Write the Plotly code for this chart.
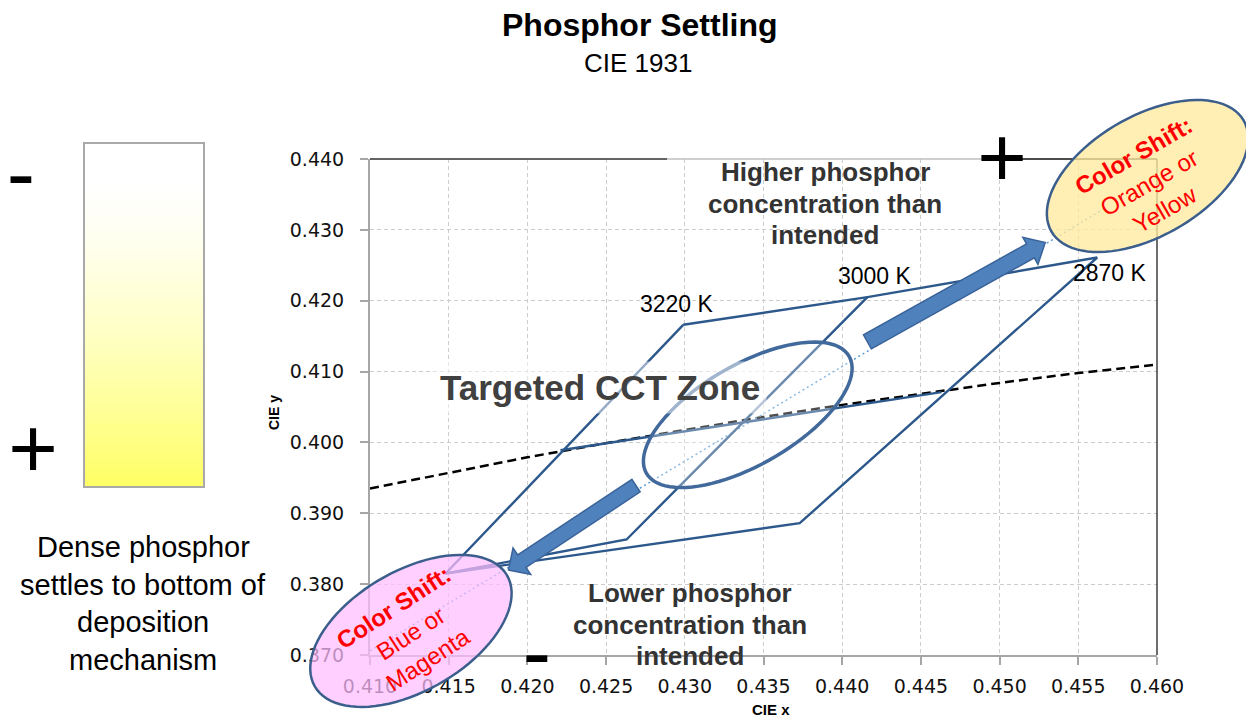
import math
import plotly.graph_objects as go

# ---------------- data ----------------
x_range = [0.410, 0.460]
y_range = [0.370, 0.440]
x_tick_vals = [0.410, 0.415, 0.420, 0.425, 0.430, 0.435, 0.440, 0.445, 0.450, 0.455, 0.460]
y_tick_vals = [0.370, 0.380, 0.390, 0.400, 0.410, 0.420, 0.430, 0.440]

# quadrangle corners (CIE x, CIE y)
cct_labels = ["3220 K", "3000 K", "2870 K"]
top_x = [0.4299, 0.4416, 0.4562]
top_y = [0.4166, 0.4205, 0.4261]
bottom_x = [0.4148, 0.4263, 0.4373]
bottom_y = [0.3815, 0.3863, 0.3886]
duv0_x = [0.4221, 0.4463]
duv0_y = [0.3989, 0.4071]

# black body (Planckian) locus, dashed
planck_x = [0.410, 0.415, 0.420, 0.425, 0.430, 0.435, 0.440, 0.445, 0.450, 0.455, 0.460]
planck_y = [0.3935, 0.3957, 0.3979, 0.3999, 0.4018, 0.4036, 0.4053, 0.4069, 0.4084, 0.4098, 0.4110]

# shift direction (dotted light-blue line)
shift_x = [0.4100, 0.4568]
shift_y = [0.3706, 0.4332]

# annotation geometry anchors (data coords)
zone_center = (0.4340, 0.4039)
low_shift_center = (0.4126, 0.3734)
high_shift_center = (0.4594, 0.4376)
arrow_up = [(0.4416, 0.4142), (0.4529, 0.4282)]
arrow_down = [(0.4269, 0.3939), (0.4188, 0.3820)]

# ---------------- geometry helpers ----------------
OFF = 8                      # page body margin
W, H = 1254 - 2 * OFF, 725 - 2 * OFF
ML, MT = 370 - OFF, 159 - OFF
PW, PH = 787, 496
MR, MB = W - ML - PW, H - MT - PH


def d2px(x, y):
    """data -> page pixel"""
    px = OFF + ML + (x - x_range[0]) / (x_range[1] - x_range[0]) * PW
    py = OFF + MT + (y_range[1] - y) / (y_range[1] - y_range[0]) * PH
    return px, py


def pxp(px):
    return (px - OFF - ML) / PW


def pyp(py):
    return (MT + PH - (py - OFF)) / PH


def path_from_px(pts):
    return "M " + " L ".join(f"{pxp(a):.5f},{pyp(b):.5f}" for a, b in pts) + " Z"


def ellipse_path(center, a, b, theta_deg, n=90):
    cx, cy = d2px(*center)
    t = math.radians(theta_deg)
    pts = []
    for i in range(n):
        f = 2 * math.pi * i / n
        ex = a * math.cos(f)
        ey = b * math.sin(f)
        pts.append((cx + ex * math.cos(t) - ey * math.sin(t),
                    cy - (ex * math.sin(t) + ey * math.cos(t))))
    return path_from_px(pts)


def arrow_path(tail, tip, w, hw, hl):
    x0, y0 = d2px(*tail)
    x1, y1 = d2px(*tip)
    L = math.hypot(x1 - x0, y1 - y0)
    dx, dy = (x1 - x0) / L, (y1 - y0) / L
    nx, ny = -dy, dx
    bx, by = x1 - dx * hl, y1 - dy * hl
    pts = [(x0 + nx * w, y0 + ny * w), (bx + nx * w, by + ny * w), (bx + nx * hw, by + ny * hw),
           (x1, y1), (bx - nx * hw, by - ny * hw), (bx - nx * w, by - ny * w), (x0 - nx * w, y0 - ny * w)]
    return path_from_px(pts)


# ---------------- figure ----------------
fig = go.Figure()
quad_col = "#2C588C"

fig.add_trace(go.Scatter(x=planck_x, y=planck_y, mode="lines",
                         line=dict(color="black", width=2.5, dash="9px,5px"), hoverinfo="skip"))
fig.add_trace(go.Scatter(x=shift_x, y=shift_y, mode="lines",
                         line=dict(color="#5A9BD5", width=1.5, dash="2px,3px"), hoverinfo="skip"))
fig.add_trace(go.Scatter(
    x=[top_x[0], top_x[1], top_x[2], bottom_x[2], bottom_x[0], top_x[0]],
    y=[top_y[0], top_y[1], top_y[2], bottom_y[2], bottom_y[0], top_y[0]],
    mode="lines", line=dict(color=quad_col, width=2.4), hoverinfo="skip"))
fig.add_trace(go.Scatter(
    x=[top_x[1], bottom_x[1], bottom_x[0]], y=[top_y[1], bottom_y[1], bottom_y[0]],
    mode="lines", line=dict(color=quad_col, width=2.4), hoverinfo="skip"))
fig.add_trace(go.Scatter(x=duv0_x, y=duv0_y, mode="lines",
                         line=dict(color=quad_col, width=2.4), hoverinfo="skip"))

shapes = []
# gradient bar on the left
top_px, bot_px = 143, 487
n_strips = 60
for i in range(n_strips):
    f = (i + 0.5) / n_strips
    g = max(0.0, (f - 0.1) / 0.9) ** 1.4
    blue = int(round(255 - 155 * g))
    y0 = top_px + (bot_px - top_px) * i / n_strips
    y1 = top_px + (bot_px - top_px) * (i + 1) / n_strips + 0.6
    shapes.append(dict(type="rect", xref="paper", yref="paper", x0=pxp(84), x1=pxp(204),
                       y0=pyp(y1), y1=pyp(y0), line=dict(width=0),
                       fillcolor=f"rgb(255,255,{blue})", layer="above"))
shapes.append(dict(type="rect", xref="paper", yref="paper", x0=pxp(84), x1=pxp(204),
                   y0=pyp(bot_px), y1=pyp(top_px), line=dict(color="#A9A9A9", width=2), layer="above"))

# plot frame details
shapes.append(dict(type="line", xref="paper", yref="paper", x0=0, x1=1, y0=1, y1=1,
                   line=dict(color="#BFBFBF", width=1.5), layer="above"))
shapes.append(dict(type="line", xref="paper", yref="paper", x0=0, x1=pxp(667), y0=1, y1=1,
                   line=dict(color="#404040", width=1.3), layer="above"))
shapes.append(dict(type="line", xref="paper", yref="paper", x0=pxp(985), x1=1, y0=1, y1=1,
                   line=dict(color="#202020", width=1.3), layer="above"))
shapes.append(dict(type="line", xref="paper", yref="paper", x0=1, x1=1, y0=0, y1=1,
                   line=dict(color="#202020", width=1.3), layer="above"))

# targeted zone ellipse
shapes.append(dict(type="path", xref="paper", yref="paper", path=ellipse_path(zone_center, 117, 50, 30),
                   line=dict(color="#41699B", width=3.5), fillcolor="rgba(255,255,255,0.3)", layer="above"))
# colour-shift ellipses
shapes.append(dict(type="path", xref="paper", yref="paper", path=ellipse_path(low_shift_center, 111, 60, 30),
                   line=dict(color="#3B5E8C", width=2.5), fillcolor="rgba(255,190,255,0.72)", layer="above"))
shapes.append(dict(type="path", xref="paper", yref="paper", path=ellipse_path(high_shift_center, 111, 60, 30),
                   line=dict(color="#3B5E8C", width=2.5), fillcolor="rgba(255,234,160,0.78)", layer="above"))
# block arrows
for tail, tip, w, hw, hl in [(arrow_up[0], arrow_up[1], 8, 15.5, 17),
                             (arrow_down[0], arrow_down[1], 7.5, 16, 16)]:
    shapes.append(dict(type="path", xref="paper", yref="paper", path=arrow_path(tail, tip, w, hw, hl),
                       line=dict(color="#3A6499", width=1.5), fillcolor="#4F81BD", layer="above"))

ann = []
F = "Liberation Sans, Arial, sans-serif"


def add_text(text, px, py, size, color="black", bold=False, angle=0, **kw):
    t = f"<b>{text}</b>" if bold else text
    d = dict(text=t, xref="paper", yref="paper", x=pxp(px), y=pyp(py), showarrow=False,
             xanchor="center", yanchor="middle", textangle=angle,
             font=dict(family=F, size=size, color=color))
    d.update(kw)
    ann.append(d)


def add_lines(lines, px, py_first, step, size, **kw):
    for i, ln in enumerate(lines):
        add_text(ln, px, py_first + i * step, size, **kw)


add_text("Phosphor Settling", 640, 25, 32, bold=True)
add_text("CIE 1931", 638, 63, 26)
add_lines(["Dense phosphor", "settles to bottom of", "deposition", "mechanism"], 143, 547, 37.7, 29)
add_text("-", 21, 172, 85, width=30, height=40)
add_text("+", 33, 448, 85, width=50, height=60)
add_text("+", 1002, 157, 85, width=50, height=60)
add_text("-", 537, 651, 85, width=30, height=40)
add_text("CIE y", 274, 413, 14, bold=True, angle=-90)
add_text("CIE x", 771, 709, 15, bold=True)
add_lines(["Higher phosphor", "concentration than", "intended"], 825, 172, 31.5, 26,
          color="#333333", bold=True)
add_lines(["Lower phosphor", "concentration than", "intended"], 690, 593, 31.5, 26,
          color="#333333", bold=True)
add_text("Targeted CCT Zone", 600, 387, 35, color="#404040", bold=True,
         bgcolor="rgba(255,255,255,0.5)", borderpad=6)
add_text("<b>Color Shift:</b><br>Blue or<br>Magenta", 410, 633, 24, color="#FF0000", angle=-33)
add_text("<b>Color Shift:</b><br>Orange or<br>Yellow", 1149, 183, 24, color="#FF0000", angle=-30)

# CCT labels tied to the quadrangle corners
label_shift = [(-6, 21), (8, 21), (13, -16)]
for lab, x, y, (sx, sy) in zip(cct_labels, top_x, top_y, label_shift):
    ann.append(dict(text=lab, x=x, y=y, xref="x", yref="y", showarrow=False, xshift=sx, yshift=sy,
                    xanchor="center", yanchor="middle", font=dict(family=F, size=23, color="black")))

tick_font = dict(family="DejaVu Sans, Verdana, sans-serif", size=19, color="#111111")
common_axis = dict(showgrid=True, gridcolor="#CCCCCC", griddash="4px,3px", gridwidth=1,
                   ticks="outside", ticklen=8, tickcolor="#A6A6A6", tickwidth=1.5,
                   showline=True, linecolor="#A6A6A6", linewidth=2, zeroline=False,
                   tickfont=tick_font, fixedrange=True)
fig.update_layout(
    width=W, height=H, margin=dict(l=ML, r=MR, t=MT, b=MB),
    plot_bgcolor="white", paper_bgcolor="white", showlegend=False,
    shapes=shapes, annotations=ann,
    xaxis=dict(range=x_range, tickvals=x_tick_vals, ticktext=[f"{v:.3f}" for v in x_tick_vals],
               ticklabelstandoff=5, **common_axis),
    yaxis=dict(range=y_range, tickvals=y_tick_vals, ticktext=[f"{v:.3f}" for v in y_tick_vals],
               ticklabelstandoff=12, **common_axis),
)

fig.write_html("out.html")
